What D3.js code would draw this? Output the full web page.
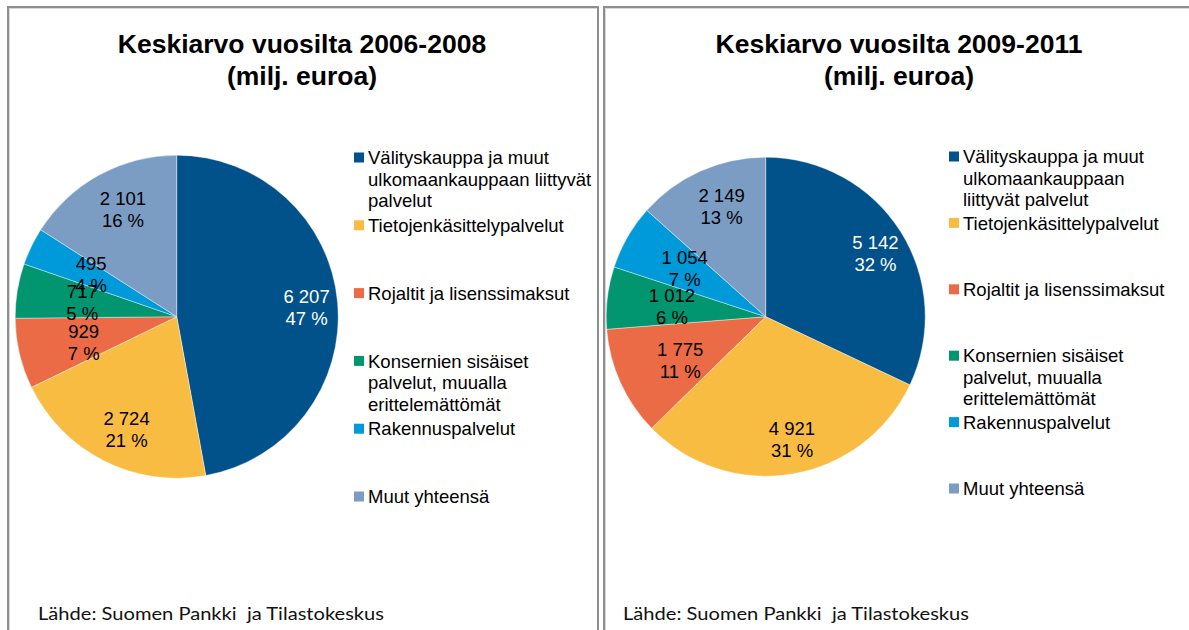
<!DOCTYPE html>
<html>
<head>
<meta charset="utf-8">
<script src="https://cdn.jsdelivr.net/npm/d3@7"></script>
<style>
  body { margin: 0; background: #fff; }
  svg { display: block; }
  text { font-family: "Liberation Sans", Arial, sans-serif; }
  text.src { font-family: Lato, "Open Sans", sans-serif; white-space: pre; }
</style>
</head>
<body>
<script>
// Data
var categories = ["Välityskauppa ja muut ulkomaankauppaan liittyvät palvelut",
                  "Tietojenkäsittelypalvelut",
                  "Rojaltit ja lisenssimaksut",
                  "Konsernien sisäiset palvelut, muualla erittelemättömät",
                  "Rakennuspalvelut",
                  "Muut yhteensä"];
var values2006 = [6207, 2724, 929, 717, 495, 2101];
var values2009 = [5142, 4921, 1775, 1012, 1054, 2149];
var titles = [["Keskiarvo vuosilta 2006-2008", "(milj. euroa)"],
              ["Keskiarvo vuosilta 2009-2011", "(milj. euroa)"]];
// legend rows as wrapped in each panel
var legendLeft = [["Välityskauppa ja muut", "ulkomaankauppaan liittyvät", "palvelut"],
                  ["Tietojenkäsittelypalvelut"],
                  ["Rojaltit ja lisenssimaksut"],
                  ["Konsernien sisäiset", "palvelut, muualla", "erittelemättömät"],
                  ["Rakennuspalvelut"],
                  ["Muut yhteensä"]];
var legendRight = [["Välityskauppa ja muut", "ulkomaankauppaan", "liittyvät palvelut"],
                   ["Tietojenkäsittelypalvelut"],
                   ["Rojaltit ja lisenssimaksut"],
                   ["Konsernien sisäiset", "palvelut, muualla", "erittelemättömät"],
                   ["Rakennuspalvelut"],
                   ["Muut yhteensä"]];
var source = "Lähde: Suomen Pankki  ja Tilastokeskus";
var colors = ["#01518a", "#f9bc43", "#eb6b46", "#019570", "#0099da", "#7b9cc3"];

var width = 1189;
var height = 630;

var fiLocale = d3.formatLocale({decimal: ",", thousands: " ", grouping: [3], currency: ["", " €"]});
var fmtNum = fiLocale.format(",d");

var color = d3.scaleOrdinal()
              .domain(categories)
              .range(colors);

var svg = d3.select("body")
            .append("svg")
            .attr("width", width)
            .attr("height", height);

// Panel layout
var panels = [
  {x0: 8, x1: 598, cx: 176.7, cy: 316.7, r: 161.5, titleX: 302, legX: 354, legY: 157.5, legStep: 67.8,
   values: values2006, legend: legendLeft, title: titles[0], srcX: 38},
  {x0: 604, x1: 1200, cx: 765.7, cy: 316.7, r: 159.5, titleX: 899, legX: 949, legY: 156.5, legStep: 66.4,
   values: values2009, legend: legendRight, title: titles[1], srcX: 623}
];

panels.forEach(function(p) {
  // border
  svg.append("path")
     .attr("d", "M" + p.x0 + "," + (height + 5) + "V" + 7 + "H" + p.x1 + "V" + (height + 5))
     .attr("fill", "none")
     .attr("stroke", "#8e8e8e")
     .attr("stroke-width", 2);
  svg.append("path")
     .attr("d", "M" + (p.x0 + 1.5) + "," + (height + 5) + "V" + 8.5 + "H" + (p.x1 - 1.5))
     .attr("fill", "none")
     .attr("stroke", "#d8d8d8")
     .attr("stroke-width", 1);

  var g = svg.append("g");

  // Title
  g.selectAll("text.title")
   .data(p.title)
   .enter()
   .append("text")
   .attr("class", "title")
   .attr("x", p.titleX)
   .attr("y", function(d, i) { return 53 + i * 32; })
   .attr("text-anchor", "middle")
   .attr("font-weight", "bold")
   .attr("font-size", "26.5px")
   .attr("fill", "#000")
   .text(function(d) { return d; });

  // Pie
  var total = d3.sum(p.values);
  var pie = d3.pie()
              .sort(null)
              .value(function(d) { return d; });
  var arcs = pie(p.values);
  var arc = d3.arc()
              .innerRadius(0)
              .outerRadius(p.r);

  var pg = g.append("g")
            .attr("transform", "translate(" + p.cx + "," + p.cy + ")");

  pg.selectAll("path")
    .data(arcs)
    .enter()
    .append("path")
    .attr("d", arc)
    .attr("fill", function(d, i) { return color(categories[i]); })
    .attr("stroke", "#fff")
    .attr("stroke-width", 0.4);

  // data labels: big slices further out, small ones nearer the centre
  var labels = pg.selectAll("g.lbl")
                 .data(arcs)
                 .enter()
                 .append("g")
                 .attr("class", "lbl")
                 .attr("transform", function(d) {
                   var share = d.value / total;
                   var lr = p.r * (share > 0.12 ? 0.77 : 0.63);
                   var a = (d.startAngle + d.endAngle) / 2;
                   return "translate(" + (Math.sin(a) * lr + 6) + "," + (-Math.cos(a) * lr + 2) + ")";
                 });

  labels.selectAll("text")
        .data(function(d, i) {
          return [fmtNum(d.value), Math.round(d.value / total * 100) + " %"].map(function(t) {
            return {t: t, i: i};
          });
        })
        .enter()
        .append("text")
        .attr("y", function(d, j) { return j === 0 ? -4.4 : 17.6; })
        .attr("text-anchor", "middle")
        .attr("font-size", "18.5px")
        .attr("fill", function(d) { return d.i === 0 ? "#fff" : "#000"; })
        .text(function(d) { return d.t; });

  // Legend
  var leg = g.selectAll("g.leg")
             .data(p.legend)
             .enter()
             .append("g")
             .attr("class", "leg")
             .attr("transform", function(d, i) {
               return "translate(" + p.legX + "," + (p.legY + i * p.legStep) + ")";
             });

  leg.append("rect")
     .attr("x", 0)
     .attr("y", -5)
     .attr("width", 10)
     .attr("height", 10)
     .attr("fill", function(d, i) { return color(categories[i]); });

  leg.selectAll("text")
     .data(function(d) { return d; })
     .enter()
     .append("text")
     .attr("x", 14)
     .attr("y", function(d, j) { return 6.6 + j * 21.6; })
     .attr("font-size", "18.5px")
     .attr("fill", "#000")
     .text(function(d) { return d; });

  // Source
  g.append("text")
   .attr("class", "src")
   .attr("x", p.srcX)
   .attr("y", 620)
   .attr("font-size", "17.5px")
   .attr("fill", "#111")
   .attr("textLength", 346)
   .attr("lengthAdjust", "spacingAndGlyphs")
   .text(source);
});
</script>
</body>
</html>
